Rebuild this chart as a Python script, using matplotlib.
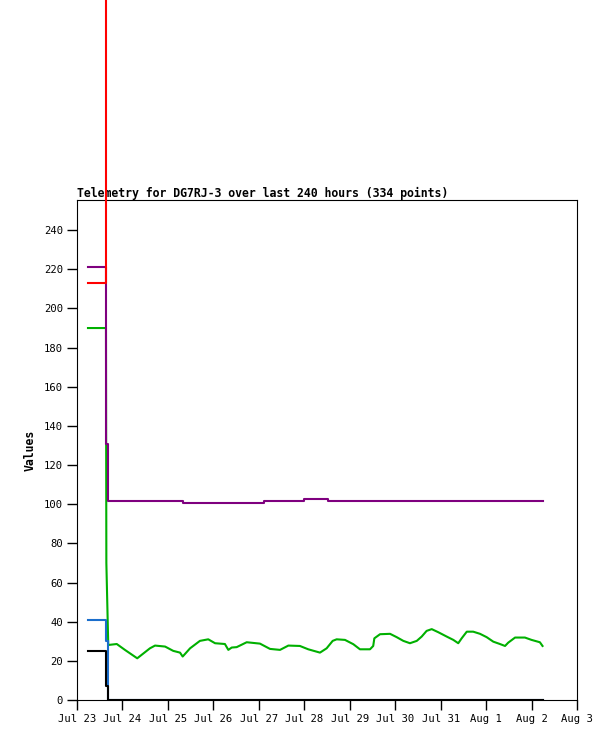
import matplotlib
matplotlib.use("Agg")
import matplotlib.pyplot as plt

# hours since Jul 23 00:00
red_t = [5.8, 15.3, 245.8]
red_v = [213, 1000, 1000]

purple_t = [5.8, 15.4, 16.3, 56.1, 98.7, 119.9, 132.4, 245.8]
purple_v = [221, 131, 101.4, 100.4, 101.4, 102.5, 101.4, 101.4]

blue_t = [5.8, 15.4, 16.2, 16.5, 245.8]
blue_v = [41, 30, 5, 0, 0]

black_t = [5.8, 15.3, 16.2, 245.8]
black_v = [25, 7, 0, 0]

green_t = [5.8, 15.3, 15.5, 16.5, 21.0, 25.3, 31.8, 38.5, 41.2, 46.5, 50.8, 54.4,
           55.8, 59.7, 64.9, 69.3, 72.9, 78.1, 79.9, 81.7, 84.3, 89.6, 96.6, 101.9,
           107.2, 111.6, 117.7, 122.1, 128.3, 131.8, 135.0, 137.1, 141.5, 145.9,
           149.4, 154.7, 156.4, 157.0, 160.0, 165.3, 168.8, 172.3, 175.8, 179.4,
           182.0, 184.6, 187.3, 190.8, 195.2, 198.7, 201.3, 203.1, 205.8, 209.2,
           212.8, 216.3, 219.8, 223.3, 226.0, 227.7, 231.3, 236.5, 240.0, 244.4, 245.8]
green_v = [190, 190, 70, 28.1, 28.6, 25.6, 21.3, 26.4, 27.8, 27.3, 25.1, 24.2,
           22.2, 26.4, 30.2, 31.0, 29.0, 28.6, 25.6, 26.8, 27.0, 29.5, 28.8, 26.1,
           25.6, 27.8, 27.6, 25.9, 24.2, 26.4, 30.2, 31.0, 30.7, 28.5,
           25.9, 25.9, 27.6, 31.5, 33.6, 33.8, 32.1, 30.2, 29.0, 30.2,
           32.4, 35.3, 36.2, 34.6, 32.4, 30.7, 29.0, 31.5, 34.9, 34.9,
           33.8, 32.1, 29.8, 28.6, 27.6, 29.3, 31.9, 31.9, 30.7, 29.5, 27.6]

x_labels = ["Jul 23", "Jul 24", "Jul 25", "Jul 26", "Jul 27", "Jul 28", "Jul 29",
            "Jul 30", "Jul 31", "Aug 1", "Aug 2", "Aug 3"]
y_ticks = list(range(0, 241, 20))

fig = plt.figure(figsize=(6.15, 7.41), dpi=100)
ax = fig.add_axes([77/615, 41/741, 500/615, 500/741])

lw = 1.5
ax.plot(green_t, green_v, color="#00b000", lw=lw, zorder=2)
ax.plot(blue_t, blue_v, color="#1a6ecc", lw=lw, drawstyle="steps-post", zorder=3)
ax.plot(black_t, black_v, color="#000000", lw=lw, drawstyle="steps-post", zorder=4)
ax.plot(purple_t, purple_v, color="#7f007f", lw=lw, drawstyle="steps-post", zorder=5)
ax.plot(red_t, red_v, color="#ff0000", lw=lw, drawstyle="steps-post", zorder=6,
        clip_on=False)

ax.set_xlim(0, 264)
ax.set_ylim(0, 255.4)
ax.set_xticks([24 * i for i in range(len(x_labels))])
ax.set_xticklabels(x_labels)
ax.set_yticks(y_ticks)

mono = "DejaVu Sans Mono"
for lab in ax.get_xticklabels() + ax.get_yticklabels():
    lab.set_fontfamily(mono)
    lab.set_fontsize(7.6)
ax.tick_params(axis="both", direction="out", length=7, width=1, pad=3)
for s in ax.spines.values():
    s.set_linewidth(0.8)
    s.set_color("black")

ax.set_ylabel("Values", fontfamily=mono, fontweight="bold", fontsize=8.3, labelpad=5)
ax.set_title("Telemetry for DG7RJ-3 over last 240 hours (334 points)",
             loc="left", fontfamily=mono, fontweight="bold", fontsize=8.3, pad=2)

fig.savefig("out.png", dpi=100)
